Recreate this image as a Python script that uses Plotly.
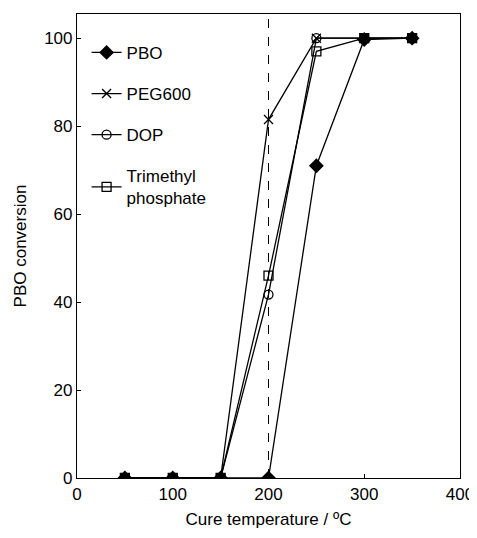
import plotly.graph_objects as go

temps = [50, 100, 150, 200, 250, 300, 350]
pbo = [0, 0, 0, 0, 71, 99.7, 100]
peg600 = [0, 0, 0, 81.5, 100, 100, 100]
dop = [0, 0, 0, 41.7, 100, 100, 100]
tmp = [0, 0, 0, 46, 97, 100, 100]

names = ["PBO", "PEG600", "DOP", "Trimethyl<br>phosphate"]
symbols = ["diamond", "x-thin-open", "circle-open", "square-open"]
sizes = [10, 9, 9, 9]
series = [pbo, peg600, dop, tmp]

fig = go.Figure()
for i, (nm, sym, sz, ys) in enumerate(zip(names, symbols, sizes, series)):
    fig.add_trace(go.Scatter(
        x=temps, y=ys, name=nm, mode="lines+markers",
        legendgroup=f"g{i}",
        line=dict(color="black", width=1.3),
        marker=dict(symbol=sym, size=sz, color="black",
                    line=dict(color="black", width=1.3)),
    ))

fig.add_shape(type="line", x0=200, x1=200, xref="x", y0=0, y1=1, yref="paper",
              line=dict(color="black", width=1, dash="dash"))

font = dict(family="Liberation Sans, Arial, sans-serif", size=17, color="black")
# page body adds an 8px margin, so the figure is 8px smaller and shifted
fig.update_layout(
    width=469, height=530,
    margin=dict(l=69, r=17, t=6, b=60),
    paper_bgcolor="white", plot_bgcolor="white",
    font=font,
    showlegend=True,
    legend=dict(x=0.025, y=0.955, xanchor="left", yanchor="top",
                bgcolor="rgba(0,0,0,0)", tracegroupgap=16,
                font=font, itemwidth=30),
    xaxis=dict(range=[0, 400], tickvals=[0, 100, 200, 300, 400],
               showline=True, linecolor="black", linewidth=1.2, mirror=True,
               ticks="inside", ticklen=4, tickcolor="black",
               showgrid=False, zeroline=False, automargin=False,
               title=dict(text="Cure temperature / ºC", font=font, standoff=10)),
    yaxis=dict(range=[0, 105.5], tickvals=[0, 20, 40, 60, 80, 100],
               showline=True, linecolor="black", linewidth=1.2, mirror=True,
               ticks="inside", ticklen=4, tickcolor="black",
               showgrid=False, zeroline=False, automargin=False,
               title=dict(text="PBO conversion", font=font, standoff=13)),
)

fig.write_html("out.html")
